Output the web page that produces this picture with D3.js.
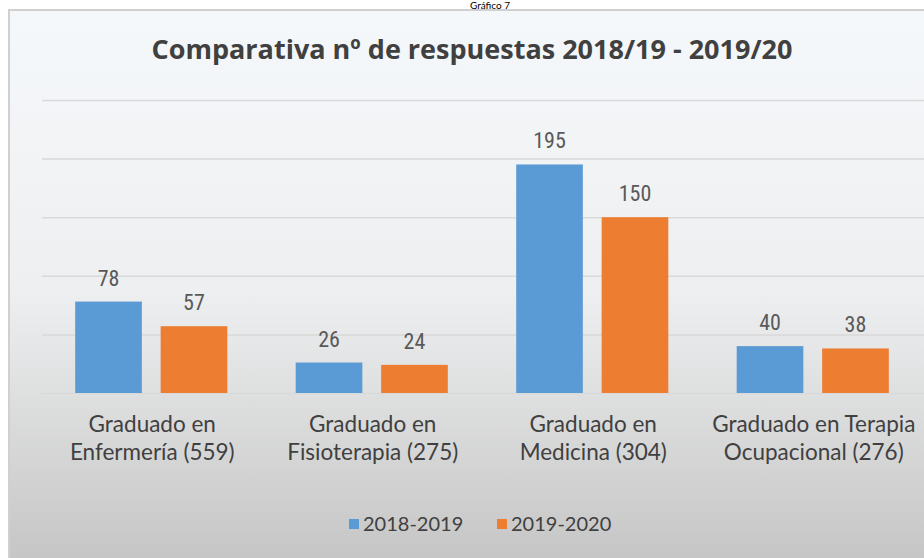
<!DOCTYPE html>
<html>
<head>
<meta charset="utf-8">
<script src="https://cdn.jsdelivr.net/npm/d3@7"></script>
<style>
  body { margin: 0; background: #fff; }
  svg { display: block; }
</style>
</head>
<body>
<svg id="chart" width="924" height="558"></svg>
<script>
const categories = [
  ["Graduado en", "Enfermería (559)"],
  ["Graduado en", "Fisioterapia (275)"],
  ["Graduado en", "Medicina (304)"],
  ["Graduado en Terapia", "Ocupacional (276)"]
];
const seriesNames = ["2018-2019", "2019-2020"];
const values2018 = [78, 26, 195, 40];
const values2019 = [57, 24, 150, 38];
const yTicks = [0, 50, 100, 150, 200, 250];
const colors = ["#5b9bd5", "#ed7d31"];

const svg = d3.select("#chart");
const narrow = "'Liberation Sans Narrow', 'Roboto Condensed', 'Arial Narrow', sans-serif";
const soft = "Lato, 'Open Sans', sans-serif";

// background gradient
const defs = svg.append("defs");
const grad = defs.append("linearGradient").attr("id", "bg").attr("x1", 0).attr("y1", 0).attr("x2", 0).attr("y2", 1);
grad.append("stop").attr("offset", "0%").attr("stop-color", "#f5f8fb");
grad.append("stop").attr("offset", "50%").attr("stop-color", "#eeeff0");
grad.append("stop").attr("offset", "100%").attr("stop-color", "#c4c4c4");

svg.append("rect").attr("x", 9).attr("y", 10).attr("width", 940).attr("height", 560)
  .attr("fill", "url(#bg)").attr("stroke", "#d0d0d0").attr("stroke-width", 2);

svg.append("text").attr("x", 490).attr("y", 9).attr("text-anchor", "middle")
  .style("font", "10px " + soft).attr("fill", "#000").text("Gráfico 7");

svg.append("text").attr("x", 472).attr("y", 59).attr("text-anchor", "middle")
  .style("font", "bold 27px 'Open Sans', sans-serif").attr("fill", "#404040")
  .text("Comparativa nº de respuestas 2018/19 - 2019/20");

const x0 = d3.scaleBand().domain(d3.range(categories.length)).range([42, 924]);
const x1 = d3.scaleBand().domain([0, 1]).range([0, x0.bandwidth()]).paddingInner(0.22).paddingOuter(0.4);
const y = d3.scaleLinear().domain([0, 250]).range([393, 100]);

svg.append("g").attr("class", "grid")
  .attr("transform", "translate(42,0)")
  .call(d3.axisLeft(y).tickValues(yTicks).tickSize(-882).tickFormat(""))
  .call(g => g.select(".domain").remove())
  .call(g => g.selectAll("line").attr("stroke", "#d9d9d9").attr("stroke-width", 1.5));

const series = [values2018, values2019];
const groups = svg.append("g").selectAll("g").data(categories).join("g")
  .attr("transform", (d, i) => `translate(${x0(i)},0)`);

groups.selectAll("rect").data((d, i) => series.map((s, k) => ({k, v: s[i]}))).join("rect")
  .attr("x", d => x1(d.k) - 1).attr("width", x1.bandwidth())
  .attr("y", d => y(d.v)).attr("height", d => y(0) - y(d.v))
  .attr("fill", d => colors[d.k]);

groups.selectAll("text.val").data((d, i) => series.map((s, k) => ({k, v: s[i]}))).join("text")
  .attr("class", "val")
  .attr("x", d => x1(d.k) - 1 + x1.bandwidth() / 2).attr("y", d => y(d.v) - 16)
  .attr("text-anchor", "middle").style("font", "22px " + narrow).attr("fill", "#595959")
  .text(d => d.v);

groups.each(function(d) {
  const t = d3.select(this).append("text").attr("text-anchor", "middle")
    .style("font", "22.5px " + soft).attr("fill", "#404040");
  d.forEach((line, j) => t.append("tspan").attr("x", x0.bandwidth() / 2).attr("y", 432 + j * 28).text(line));
});

// legend
const legend = svg.append("g").attr("transform", "translate(349,519)");
seriesNames.forEach((name, k) => {
  const g = legend.append("g").attr("transform", `translate(${k * 148},0)`);
  g.append("rect").attr("width", 10).attr("height", 10).attr("fill", colors[k]);
  g.append("text").attr("x", 14).attr("y", 12).style("font", "20px " + soft).attr("fill", "#404040").text(name);
});
</script>
</body>
</html>
